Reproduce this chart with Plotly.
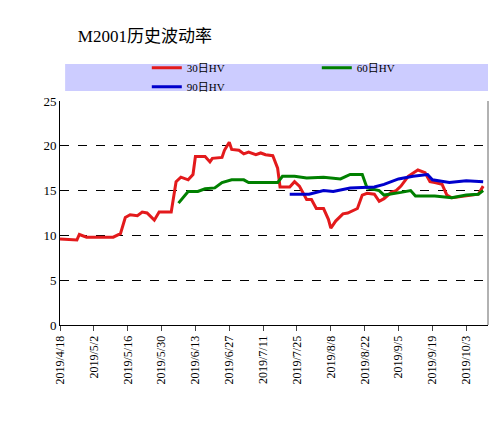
import plotly.graph_objects as go
import pandas as pd

red_dates = ['2019-04-18', '2019-04-25', '2019-04-26', '2019-04-29', '2019-05-10', '2019-05-13', '2019-05-15',
             '2019-05-17', '2019-05-20', '2019-05-22', '2019-05-24', '2019-05-27', '2019-05-29', '2019-06-03',
             '2019-06-05', '2019-06-07', '2019-06-10', '2019-06-12', '2019-06-13', '2019-06-17', '2019-06-19',
             '2019-06-20', '2019-06-24', '2019-06-25', '2019-06-27', '2019-06-28', '2019-07-01', '2019-07-03',
             '2019-07-05', '2019-07-08', '2019-07-10', '2019-07-12', '2019-07-15', '2019-07-17', '2019-07-18',
             '2019-07-22', '2019-07-24', '2019-07-26', '2019-07-29', '2019-07-31', '2019-08-02', '2019-08-05',
             '2019-08-07', '2019-08-08', '2019-08-10', '2019-08-13', '2019-08-15', '2019-08-19', '2019-08-21',
             '2019-08-23', '2019-08-26', '2019-08-28', '2019-08-30', '2019-09-02', '2019-09-04', '2019-09-06',
             '2019-09-09', '2019-09-11', '2019-09-13', '2019-09-16', '2019-09-18', '2019-09-20', '2019-09-23',
             '2019-09-25', '2019-09-27', '2019-09-30', '2019-10-08', '2019-10-10']
red_vals = [9.6, 9.5, 10.1, 9.8, 9.8, 10.2, 12.0,
            12.3, 12.2, 12.6, 12.5, 11.7, 12.6, 12.6,
            16.0, 16.5, 16.2, 16.8, 18.8, 18.8, 18.2,
            18.6, 18.7, 19.5, 20.4, 19.6, 19.5, 19.1,
            19.3, 19.0, 19.2, 19.0, 18.9, 17.5, 15.4,
            15.4, 16.0, 15.5, 14.0, 14.0, 13.0, 13.0,
            11.8, 10.8, 11.6, 12.4, 12.5, 13.0, 14.5,
            14.7, 14.6, 13.8, 14.1, 14.8, 15.0, 15.5,
            16.6, 17.0, 17.3, 17.0, 16.0, 15.9, 15.7,
            14.5, 14.2, 14.3, 14.6, 15.5]

green_dates = ['2019-06-06', '2019-06-10', '2019-06-14', '2019-06-17', '2019-06-21', '2019-06-24', '2019-06-28',
               '2019-07-03', '2019-07-05', '2019-07-12', '2019-07-17', '2019-07-19', '2019-07-24', '2019-07-29',
               '2019-08-05', '2019-08-12', '2019-08-16', '2019-08-21', '2019-08-23', '2019-08-28', '2019-08-30',
               '2019-09-06', '2019-09-10', '2019-09-12', '2019-09-20', '2019-09-27', '2019-10-03', '2019-10-08',
               '2019-10-10']
green_vals = [13.6, 14.9, 14.9, 15.2, 15.3, 15.9, 16.2,
              16.2, 15.9, 15.9, 15.9, 16.6, 16.6, 16.4,
              16.5, 16.3, 16.8, 16.8, 15.3, 15.0, 14.5,
              14.8, 15.0, 14.4, 14.4, 14.2, 14.5, 14.6,
              15.0]

blue_dates = ['2019-07-22', '2019-07-30', '2019-08-05', '2019-08-09', '2019-08-16', '2019-08-26', '2019-08-30',
              '2019-09-05', '2019-09-11', '2019-09-17', '2019-09-19', '2019-09-26', '2019-10-03', '2019-10-10']
blue_vals = [14.6, 14.6, 15.0, 14.9, 15.3, 15.4, 15.7,
             16.3, 16.6, 16.8, 16.2, 15.9, 16.1, 16.0]

ticks = pd.date_range('2019-04-18', periods=13, freq='14D')
tick_text = ['%d/%d/%d' % (t.year, t.month, t.day) for t in ticks]

fig = go.Figure()
fig.add_trace(go.Scatter(x=red_dates, y=red_vals, name='30日HV', mode='lines',
                         line=dict(color='#e31a1c', width=3)))
fig.add_trace(go.Scatter(x=green_dates, y=green_vals, name='60日HV', mode='lines',
                         line=dict(color='#008000', width=3)))
fig.add_trace(go.Scatter(x=blue_dates, y=blue_vals, name='90日HV', mode='lines',
                         line=dict(color='#0000cc', width=3)))

fig.update_layout(
    width=499, height=438, plot_bgcolor='white', paper_bgcolor='white',
    margin=dict(l=52, r=19, t=93, b=121, autoexpand=False),
    font=dict(family='Liberation Serif, Noto Sans CJK SC', size=12, color='black'),
    title=dict(text='M2001历史波动率', x=0.14, xanchor='left', y=0.935, yanchor='middle',
               font=dict(size=17)),
    showlegend=True,
    legend=dict(orientation='h', x=0.6, xanchor='center', y=1.106, yanchor='middle',
                bgcolor='rgba(0,0,0,0)', entrywidth=125, font=dict(size=11)),
)
fig.add_shape(type='rect', xref='paper', yref='paper', x0=0.012, x1=1.0, y0=1.045, y1=1.165,
              fillcolor='#ccccff', line=dict(width=0), layer='below')
fig.update_xaxes(range=['2019-04-18', '2019-10-12'], tickvals=ticks, ticktext=tick_text,
                 tickangle=-90, showgrid=False, showline=True, linecolor='black',
                 ticks='outside', ticklen=5, tickfont=dict(size=12))
fig.update_yaxes(range=[0, 25], dtick=5, showgrid=True, gridcolor='black', griddash='dash',
                 gridwidth=1, showline=True, linecolor='black', ticks='', zeroline=False,
                 tickfont=dict(size=13))
fig.add_shape(type='line', xref='paper', yref='paper', x0=1, x1=1, y0=0, y1=1,
              line=dict(color='#999999', width=1.5))
fig.write_html('out.html')
